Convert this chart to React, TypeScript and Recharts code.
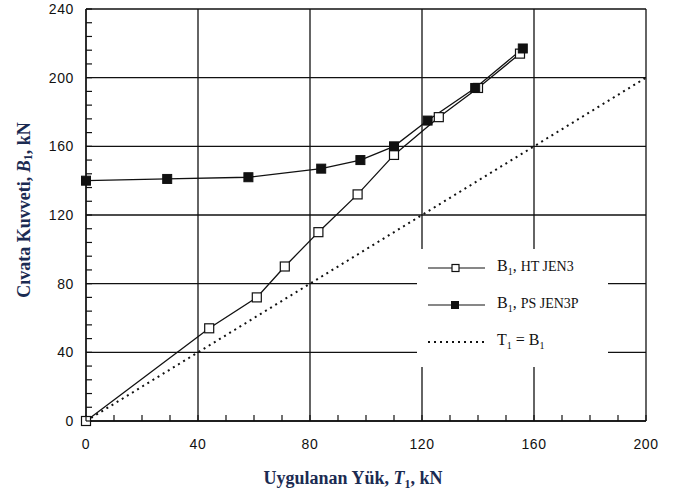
import * as React from 'react'
import { ComposedChart, Line, XAxis, YAxis, CartesianGrid, Label } from 'recharts'

// applied load T1 (kN) and bolt force B1 (kN)
const htLoad = [0, 44, 61, 71, 83, 97, 110, 126, 140, 155]
const htBolt = [0, 54, 72, 90, 110, 132, 155, 177, 194, 214]
const psLoad = [0, 29, 58, 84, 98, 110, 122, 139, 156]
const psBolt = [140, 141, 142, 147, 152, 160, 175, 194, 217]
const refLoad = [0, 200]
const refBolt = [0, 200]

const xTicks = Array.from({ length: 21 }, (_, i) => i * 10)
const yTicks = Array.from({ length: 31 }, (_, i) => i * 8)
const xMajor = [0, 40, 80, 120, 160, 200]
const yMajor = [0, 40, 80, 120, 160, 200, 240]

const htData = htLoad.map((x, i) => ({ x, y: htBolt[i] }))
const psData = psLoad.map((x, i) => ({ x, y: psBolt[i] }))
const refData = refLoad.map((x, i) => ({ x, y: refBolt[i] }))

const ink = '#111'
const labelColor = '#1b2b52'
const tickFont = {
	fontFamily: '"Liberation Sans", Arial, sans-serif',
	fontSize: 14,
	letterSpacing: 0.6,
	fill: ink,
}

const OpenSquare = (props: any) => {
	const { cx, cy } = props
	if (cx == null || cy == null) return null
	return <rect x={cx - 4.5} y={cy - 4.5} width={9} height={9} fill="#fff" stroke={ink} strokeWidth={1.2} />
}

const FilledSquare = (props: any) => {
	const { cx, cy } = props
	if (cx == null || cy == null) return null
	return <rect x={cx - 4.5} y={cy - 4.5} width={9} height={9} fill={ink} stroke={ink} />
}

const YTick = (props: any) => {
	const { x, y, payload } = props
	const v = payload.value
	return (
		<g>
			<line x1={x} x2={x + 6} y1={y} y2={y} stroke={ink} strokeWidth={1.2} />
			{v % 40 === 0 && (
				<text x={x - 12} y={y + 5} textAnchor="end" {...tickFont}>
					{v}
				</text>
			)}
		</g>
	)
}

const XTick = (props: any) => {
	const { x, y, payload } = props
	const v = payload.value
	return (
		<g>
			<line x1={x} x2={x} y1={y} y2={y - 6} stroke={ink} strokeWidth={1.2} />
			{v % 40 === 0 && (
				<text x={x} y={y + 28} textAnchor="middle" {...tickFont}>
					{v}
				</text>
			)}
		</g>
	)
}

const serif = '"Liberation Serif", "Times New Roman", serif'

const YLabel = (props: any) => {
	const { viewBox } = props
	const cx = 24
	const cy = viewBox.y + viewBox.height / 2 - 5
	return (
		<text
			x={cx}
			y={cy}
			transform={`rotate(-90 ${cx} ${cy})`}
			textAnchor="middle"
			dominantBaseline="central"
			fontFamily={serif}
			fontWeight="bold"
			fontSize={18}
			fill={labelColor}
		>
			Cıvata Kuvveti, <tspan fontStyle="italic">B</tspan>
			<tspan fontSize={12} dy={4}>1</tspan>
			<tspan dy={-4}>, kN</tspan>
		</text>
	)
}

const XLabel = (props: any) => {
	const { viewBox } = props
	const cx = viewBox.x + viewBox.width / 2 - 13
	return (
		<text
			x={cx}
			y={484}
			textAnchor="middle"
			fontFamily={serif}
			fontWeight="bold"
			fontSize={18}
			fill={labelColor}
		>
			Uygulanan Yük, <tspan fontStyle="italic">T</tspan>
			<tspan fontSize={12} dy={4}>1</tspan>
			<tspan dy={-4}>, kN</tspan>
		</text>
	)
}

const legendRow: React.CSSProperties = {
	display: 'flex',
	alignItems: 'center',
	height: 37,
}

const LegendBox = () => (
	<div
		style={{
			position: 'absolute',
			left: 417,
			top: 249,
			width: 191,
			height: 118,
			background: '#fff',
			fontFamily: serif,
			fontSize: 16,
			color: ink,
		}}
	>
		<div style={legendRow}>
			<svg width={80} height={12}>
				<line x1={11} x2={68} y1={6} y2={6} stroke={ink} strokeWidth={1.2} />
				<rect x={35} y={2.5} width={7} height={7} fill="#fff" stroke={ink} strokeWidth={1.2} />
			</svg>
			<span>
				B<sub style={{ fontSize: 10 }}>1</sub>, <span style={{ fontSize: 14 }}>HT JEN3</span>
			</span>
		</div>
		<div style={legendRow}>
			<svg width={80} height={12}>
				<line x1={11} x2={68} y1={6} y2={6} stroke={ink} strokeWidth={1.2} />
				<rect x={34} y={2} width={8} height={8} fill={ink} />
			</svg>
			<span>
				B<sub style={{ fontSize: 10 }}>1</sub>, <span style={{ fontSize: 14 }}>PS JEN3P</span>
			</span>
		</div>
		<div style={legendRow}>
			<svg width={80} height={12}>
				<line x1={11} x2={68} y1={6} y2={6} stroke={ink} strokeWidth={2} strokeDasharray="2 4" />
			</svg>
			<span>
				T<sub style={{ fontSize: 10 }}>1</sub> = B<sub style={{ fontSize: 10 }}>1</sub>
			</span>
		</div>
	</div>
)

const App = (): JSX.Element => {
	return (
		<div style={{ position: 'absolute', left: 0, top: 0, width: 677, height: 495, background: '#fff' }}>
			<ComposedChart width={677} height={495} margin={{ top: 9, right: 31, left: 26, bottom: 44 }}>
				<CartesianGrid
					stroke={ink}
					strokeWidth={1.3}
					horizontalValues={yMajor}
					verticalValues={xMajor}
				/>
				<XAxis
					type="number"
					dataKey="x"
					domain={[0, 200]}
					ticks={xTicks}
					interval={0}
					height={30}
					tickSize={0}
					tickMargin={0}
					tickLine={false}
					axisLine={{ stroke: ink, strokeWidth: 1.3 }}
					tick={<XTick />}
				>
					<Label content={<XLabel />} />
				</XAxis>
				<YAxis
					type="number"
					dataKey="y"
					domain={[0, 240]}
					ticks={yTicks}
					interval={0}
					width={60}
					tickSize={0}
					tickMargin={0}
					tickLine={false}
					axisLine={{ stroke: ink, strokeWidth: 1.3 }}
					tick={<YTick />}
				>
					<Label content={<YLabel />} />
				</YAxis>
				<Line
					data={refData}
					dataKey="y"
					stroke={ink}
					strokeWidth={2}
					strokeDasharray="2 4"
					dot={false}
					activeDot={false}
					isAnimationActive={false}
				/>
				<Line
					data={htData}
					dataKey="y"
					stroke={ink}
					strokeWidth={1.3}
					dot={<OpenSquare />}
					activeDot={false}
					isAnimationActive={false}
				/>
				<Line
					data={psData}
					dataKey="y"
					stroke={ink}
					strokeWidth={1.3}
					dot={<FilledSquare />}
					activeDot={false}
					isAnimationActive={false}
				/>
			</ComposedChart>
			<LegendBox />
		</div>
	)
}

export default App
